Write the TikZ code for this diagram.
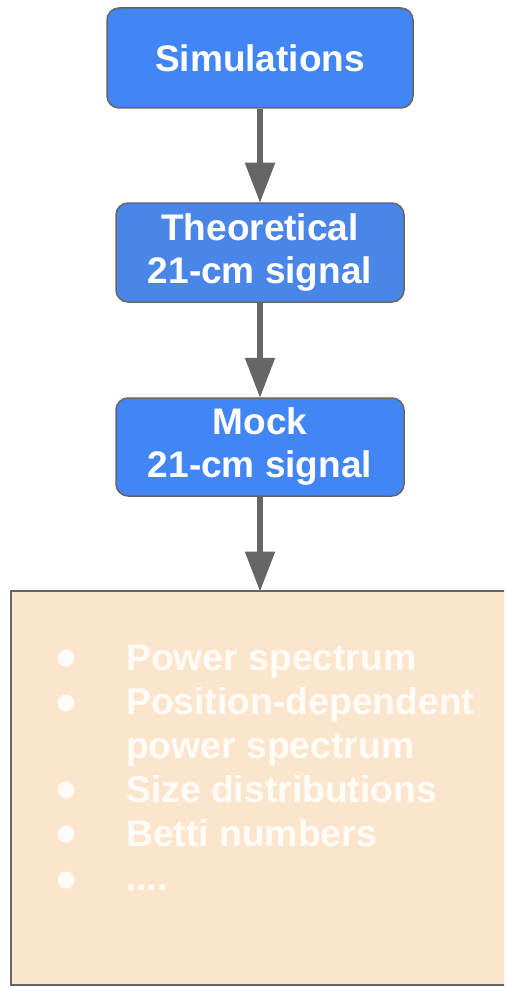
\documentclass[tikz,border=0pt]{standalone}
\usepackage{fontspec}
\setmainfont{Liberation Sans}
\usetikzlibrary{arrows.meta}
\definecolor{boxblue}{HTML}{4285F4}
\definecolor{boxblueb}{HTML}{4A86E8}
\definecolor{peach}{HTML}{FCE5CD}
\definecolor{edgegray}{HTML}{666666}
\definecolor{listtxt}{HTML}{FFFCF8}
\tikzset{
  bluebox/.style={draw=edgegray, line width=1.5pt, rounded corners=12pt, fill=boxblue,
    text=white, font=\bfseries\fontsize{37}{43}\selectfont, align=center, inner sep=0pt},
  flow/.style={draw=edgegray, line width=5.5pt, -{Triangle[length=40pt,width=29pt]}, shorten >=-0.5pt},
  listline/.style={anchor=base west, text=listtxt, font=\bfseries\fontsize{37.3}{43}\selectfont, inner sep=0pt},
  dot/.style={circle, fill=listtxt, inner sep=0pt, minimum size=17pt}
}
\begin{document}
\begin{tikzpicture}[x=1pt,y=1pt]
\useasboundingbox (0,0) rectangle (504,-987);
\clip (0,0) rectangle (504,-987);
% boxes
\node[bluebox, minimum width=306pt, minimum height=100pt] (sim) at (260,-58) {Simulations};
\node[bluebox, fill=boxblueb, minimum width=288pt, minimum height=99pt] (theo) at (260,-252.5) {Theoretical\\21-cm signal};
\node[bluebox, minimum width=288pt, minimum height=98pt] (mock) at (260,-447) {Mock\\21-cm signal};
\node[draw=edgegray, line width=2pt, fill=peach, minimum width=520pt, minimum height=394pt, inner sep=0pt] (obs) at (271,-788) {};
\coordinate (obstop) at (260,-591);
% arrows
\draw[flow] (sim.south) -- (theo.north);
\draw[flow] (theo.south) -- (mock.north);
\draw[flow] (mock.south) -- (obstop);
% list
\node[listline] (l1) at (126,-670) {Power spectrum};
\node[listline] (l2) at (126,-714) {Position-dependent};
\node[listline] (l3) at (126,-758) {power spectrum};
\node[listline] (l4) at (126,-802) {Size distributions};
\node[listline] (l5) at (126,-846) {Betti numbers};
\node[listline] (l6) at (126,-890) {....};
\node[dot] (d1) at (66,-658) {};
\node[dot] (d2) at (66,-703) {};
\node[dot] (d4) at (66,-790) {};
\node[dot] (d5) at (66,-834) {};
\node[dot] (d6) at (66,-880) {};
\end{tikzpicture}
\end{document}
